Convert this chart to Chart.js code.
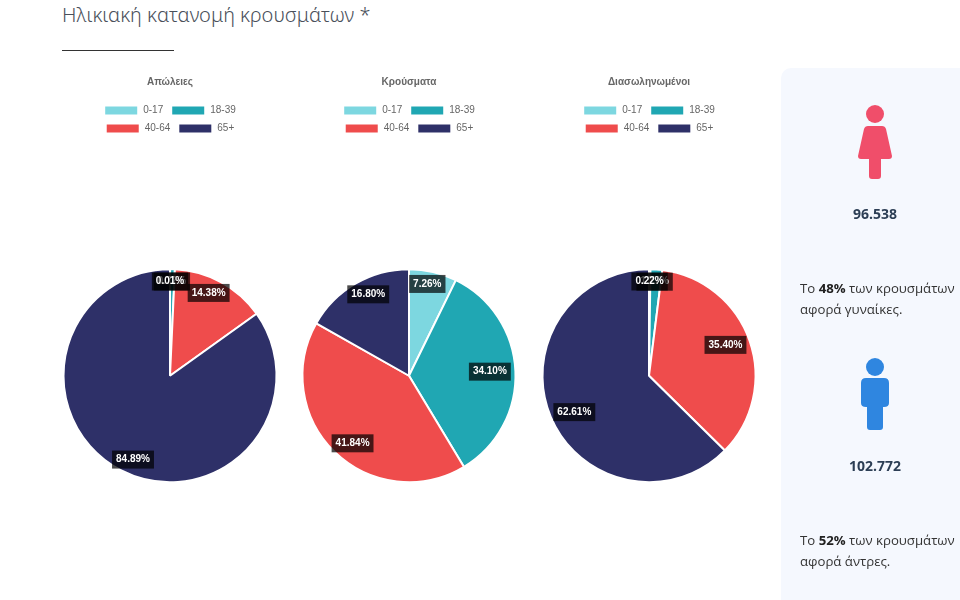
<!DOCTYPE html>
<html lang="el">
<head>
<meta charset="utf-8">
<title>Ηλικιακή κατανομή κρουσμάτων</title>
<script src="https://cdn.jsdelivr.net/npm/chart.js@4"></script>
<style>
  html, body { margin: 0; padding: 0; background: #fff; }
  body { position: relative; width: 960px; height: 600px; overflow: hidden; font-family: "Open Sans", sans-serif; }
  #heading { position: absolute; left: 62px; top: 0; font: 300 20px/30px "Noto Sans", sans-serif; color: #4a505a; white-space: nowrap; }
  #rule { position: absolute; left: 62px; top: 50px; width: 112px; height: 1px; background: #333; }
  canvas { position: absolute; top: 60px; }
  #panel { position: absolute; left: 781px; top: 68px; width: 200px; height: 560px; background: #f5f8fe; border-radius: 10px; }
  #panel svg { position: absolute; left: 0; top: 0; }
  .count { position: absolute; left: 781px; width: 188px; text-align: center; font-weight: 700; font-size: 14px; line-height: 18px; color: #2c3e55; }
  .note { position: absolute; left: 800px; width: 175px; font-size: 13.2px; line-height: 21px; color: #333; white-space: nowrap; }
  .note b { color: #222; }
</style>
</head>
<body>
<div id="heading">Ηλικιακή κατανομή κρουσμάτων *</div>
<div id="rule"></div>
<canvas id="pie0" width="240" height="548" style="left:50px"></canvas>
<canvas id="pie1" width="240" height="548" style="left:289px"></canvas>
<canvas id="pie2" width="240" height="548" style="left:529px"></canvas>
<div id="panel">
  <svg width="200" height="532" viewBox="781 68 200 532">
    <circle cx="875" cy="114" r="9" fill="#f04e6a"/>
    <path d="M868 126h14q3 0 4 3l6 27q0 3-3 3h-8v17q0 3-3 3h-6q-3 0-3-3v-17h-8q-3 0-3-3l6-27q1-3 4-3z" fill="#f04e6a"/>
    <circle cx="875" cy="367" r="9" fill="#2f86e0"/>
    <path d="M866 378h18q5 0 5 5v20q0 4-5 4h-1v20q0 3-3 3h-10q-3 0-3-3v-20h-1q-5 0-5-4v-20q0-5 5-5z" fill="#2f86e0"/>
  </svg>
</div>
<div class="count" style="top:205px">96.538</div>
<div class="note" style="top:278px">Το <b>48%</b> των κρουσμάτων<br>αφορά γυναίκες.</div>
<div class="count" style="top:457px">102.772</div>
<div class="note" style="top:530px">Το <b>52%</b> των κρουσμάτων<br>αφορά άντρες.</div>
<script>
"use strict";

const ageGroups = ["0-17", "18-39", "40-64", "65+"];
const pieTitles = ["Απώλειες", "Κρούσματα", "Διασωληνωμένοι"];
const deaths = [0.01, 0.72, 14.38, 84.89];
const cases = [7.26, 34.10, 41.84, 16.80];
const intubated = [0.22, 1.77, 35.40, 62.61];
const ageColors = ["#7dd7e0", "#20a7b3", "#ef4c4c", "#2e3068"];

// τιμές πάνω στις φέτες, από το τελευταίο προς το πρώτο ώστε το 0-17 να μένει από πάνω
const sliceLabels = {
  id: "sliceLabels",
  afterDatasetsDraw(chart) {
    const ctx = chart.ctx;
    const values = chart.data.datasets[0].data;
    const arcs = chart.getDatasetMeta(0).data;
    ctx.save();
    ctx.font = "bold 10px 'Liberation Sans', Arial, sans-serif";
    ctx.textAlign = "center";
    ctx.textBaseline = "middle";
    for (let i = arcs.length - 1; i >= 0; i--) {
      const a = arcs[i];
      const mid = (a.startAngle + a.endAngle) / 2;
      // οι ετικέτες μαζεύονται οριζόντια προς το κέντρο
      const x = a.x + Math.cos(mid) * a.outerRadius * 0.76;
      const y = a.y + Math.sin(mid) * a.outerRadius * 0.885;
      const text = values[i].toFixed(2) + "%";
      const w = ctx.measureText(text).width + 8;
      ctx.fillStyle = "rgba(0,0,0,0.7)";
      ctx.fillRect(x - w / 2, y - 9, w, 18);
      ctx.fillStyle = "#fff";
      ctx.fillText(text, x, y);
    }
    ctx.restore();
  },
};

function drawPie(id, title, values) {
  new Chart(document.getElementById(id), {
    type: "pie",
    data: {
      labels: ageGroups,
      datasets: [{
        data: values,
        backgroundColor: ageColors,
        borderColor: "#fff",
        borderWidth: 2,
        hoverOffset: 0,
      }],
    },
    options: {
      responsive: false,
      animation: false,
      devicePixelRatio: 1,
      layout: { padding: { left: 12.5, right: 12.5 } },
      plugins: {
        title: {
          display: true,
          text: title,
          color: "#666",
          font: { family: "'Liberation Sans', Arial, sans-serif", size: 10, weight: "bold" },
          padding: { top: 16, bottom: 9.5 },
        },
        legend: {
          position: "top",
          maxWidth: 170,
          labels: {
            boxWidth: 34,
            boxHeight: 10,
            padding: 8,
            color: "#666",
            font: { family: "'Liberation Sans', Arial, sans-serif", size: 10 },
          },
        },
        tooltip: { enabled: false },
      },
    },
    plugins: [sliceLabels],
  });
}

drawPie("pie0", pieTitles[0], deaths);
drawPie("pie1", pieTitles[1], cases);
drawPie("pie2", pieTitles[2], intubated);
</script>
</body>
</html>
